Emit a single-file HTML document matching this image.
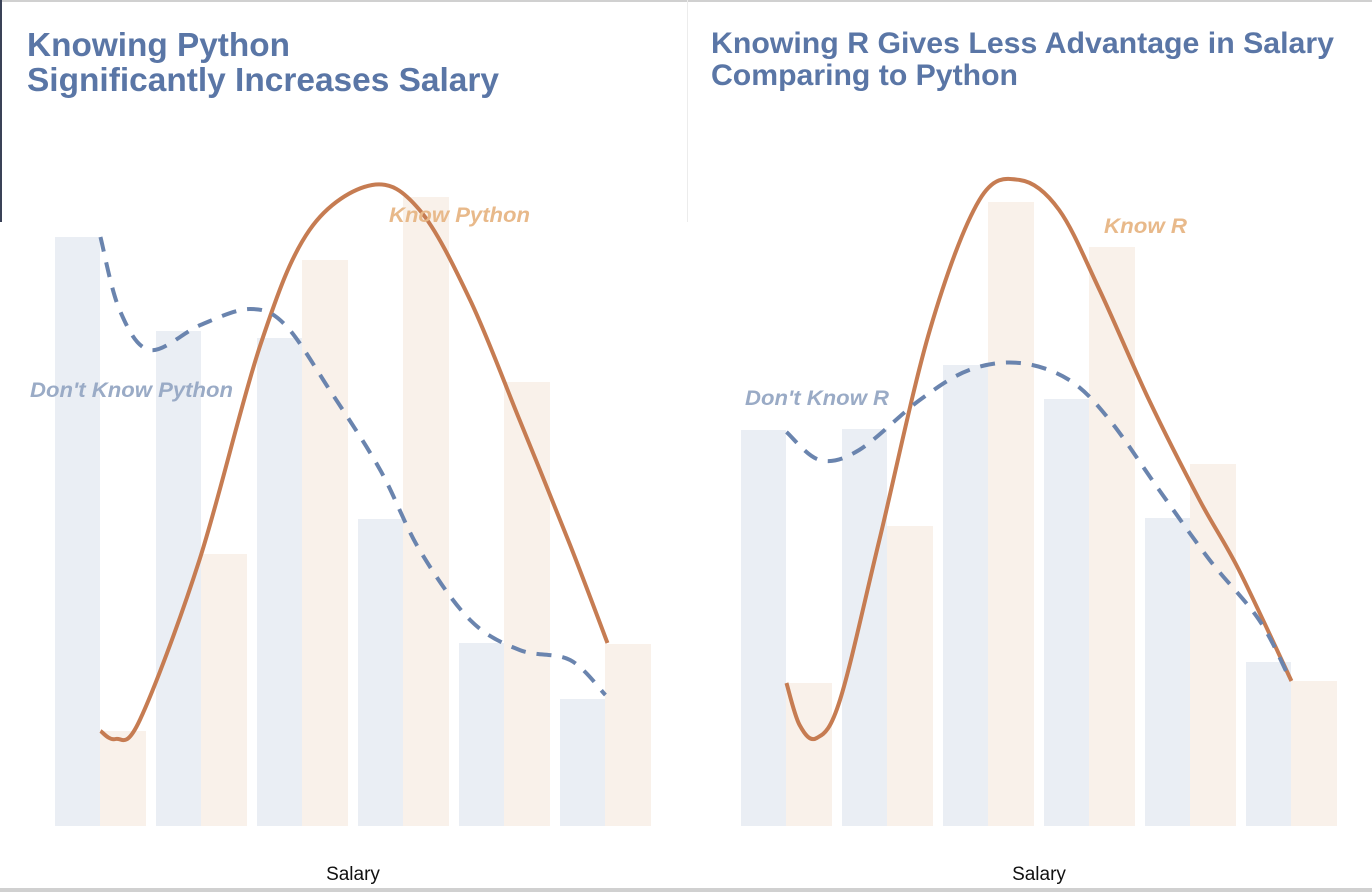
<!DOCTYPE html>
<html><head><meta charset="utf-8"><style>
body{margin:0;background:#fff;}
svg{display:block;font-family:"Liberation Sans",sans-serif;}
</style></head><body>
<svg id="c" width="1372" height="892">
<rect x="0" y="0" width="1372" height="2" fill="#d0d0d0"/>
<rect x="0" y="888" width="1372" height="4" fill="#d0d0d0"/>
<rect x="0" y="0" width="2" height="222" fill="#3a4257"/>
<rect x="687" y="0" width="1" height="222" fill="#ececec"/>
<text font-size="33" font-weight="bold" fill="#5a76a6"><tspan x="27" y="56" textLength="263" lengthAdjust="spacingAndGlyphs">Knowing Python</tspan><tspan x="27" y="91" textLength="472" lengthAdjust="spacingAndGlyphs">Significantly Increases Salary</tspan></text>
<text font-size="30" font-weight="bold" fill="#5a76a6"><tspan x="711" y="53" textLength="623" lengthAdjust="spacingAndGlyphs">Knowing R Gives Less Advantage in Salary</tspan><tspan x="711" y="85" textLength="307" lengthAdjust="spacingAndGlyphs">Comparing to Python</tspan></text>
<g id="gl"></g><g id="gr"></g>
<text x="353" y="880" font-size="19" text-anchor="middle" fill="#111">Salary</text>
<text x="1039" y="880" font-size="19" text-anchor="middle" fill="#111">Salary</text>
<text x="389" y="222" font-size="21" font-weight="bold" font-style="italic" fill="#e8b98a" textLength="141" lengthAdjust="spacingAndGlyphs">Know Python</text>
<text x="30" y="397" font-size="21" font-weight="bold" font-style="italic" fill="#9aabc6" textLength="203" lengthAdjust="spacingAndGlyphs">Don't Know Python</text>
<text x="1104" y="233" font-size="21" font-weight="bold" font-style="italic" fill="#e8b98a" textLength="83" lengthAdjust="spacingAndGlyphs">Know R</text>
<text x="745" y="405" font-size="21" font-weight="bold" font-style="italic" fill="#9aabc6" textLength="144" lengthAdjust="spacingAndGlyphs">Don't Know R</text>
</svg>
<script>
const categories=["b1","b2","b3","b4","b5","b6"];
const pyNo=[589,495,488,307,183,127];
const pyYes=[95,272,566,629,444,182];
const rNo=[396,397,461,427,308,164];
const rYes=[143,300,624,579,362,145];
const pyYesCurveX=[0.45,0.60,0.84,1.43,2.03,2.52,3.14,3.61,4.11,4.60,5.10,5.47];
const pyYesCurveV=[95,87,106,266,480,596,641,616,526,406,281,183];
const pyNoCurveX=[0.45,0.64,0.94,1.44,1.93,2.28,2.72,3.22,3.61,4.11,4.60,5.10,5.45];
const pyNoCurveV=[589,516,476,501,517,501,436,356,276,206,176,166,131];
const rYesCurveX=[0.45,0.58,0.75,0.98,1.37,1.87,2.36,2.76,3.15,3.55,4.04,4.54,4.93,5.45];
const rYesCurveV=[143,101,88,126,286,496,626,646,616,536,426,326,256,145];
const rNoCurveX=[0.45,0.78,1.17,1.77,2.26,2.76,3.25,3.65,4.14,4.64,5.13,5.43];
const rNoCurveV=[394,366,376,426,456,463,446,406,336,266,206,148];
const NS="http://www.w3.org/2000/svg";
const base=826,pitch=101,bw=45;
function yS(v){return base-v;}
function path(xs,vs,x0){
  const p=xs.map((x,i)=>[x0+x*pitch,yS(vs[i])]);
  let d="M"+p[0][0]+","+p[0][1];
  for(let i=0;i<p.length-1;i++){
    const a=p[Math.max(0,i-1)],b=p[i],c=p[i+1],e=p[Math.min(p.length-1,i+2)];
    d+=" C"+(b[0]+(c[0]-a[0])/6)+","+(b[1]+(c[1]-a[1])/6)+" "+(c[0]-(e[0]-b[0])/6)+","+(c[1]-(e[1]-b[1])/6)+" "+c[0]+","+c[1];
  }
  return d;
}
function panel(gid,x0,no,yes,cyX,cyV,cnX,cnV,pfx){
  const g=document.getElementById(gid);
  categories.forEach((c,i)=>{
    const b1=document.createElementNS(NS,"rect");
    b1.setAttribute("x",x0+i*pitch);b1.setAttribute("y",yS(no[i]));b1.setAttribute("width",bw);b1.setAttribute("height",no[i]);b1.setAttribute("fill","#eaeef4");
    
    
    g.appendChild(b1);
    const b2=document.createElementNS(NS,"rect");
    b2.setAttribute("x",x0+i*pitch+bw);b2.setAttribute("y",yS(yes[i]));b2.setAttribute("width",bw+1);b2.setAttribute("height",yes[i]);b2.setAttribute("fill","#f9f1ea");
    
    
    g.appendChild(b2);
  });
  const l1=document.createElementNS(NS,"path");
  l1.setAttribute("d",path(cyX,cyV,x0));l1.setAttribute("fill","none");l1.setAttribute("stroke","#c67c52");l1.setAttribute("stroke-width","4");
  
  
  g.appendChild(l1);
  const l2=document.createElementNS(NS,"path");
  l2.setAttribute("d",path(cnX,cnV,x0));l2.setAttribute("fill","none");l2.setAttribute("stroke","#6a84ae");l2.setAttribute("stroke-width","4");l2.setAttribute("stroke-dasharray","15 11");
  
  
  g.appendChild(l2);
}
panel("gl",55,pyNo,pyYes,pyYesCurveX,pyYesCurveV,pyNoCurveX,pyNoCurveV,"python");
panel("gr",741,rNo,rYes,rYesCurveX,rYesCurveV,rNoCurveX,rNoCurveV,"r");
</script>
</body></html>
